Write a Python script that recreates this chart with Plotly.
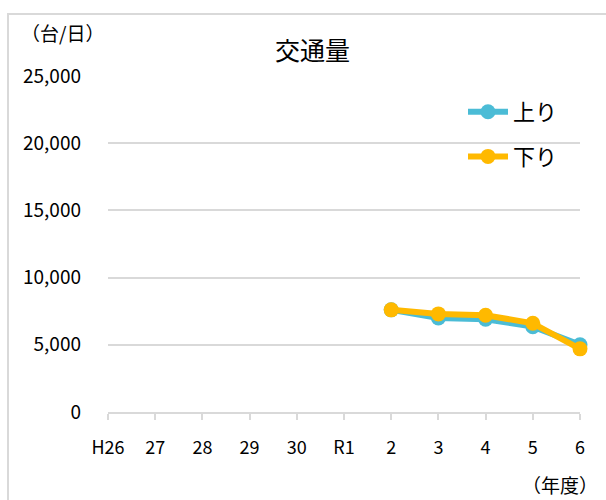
import plotly.graph_objects as go

categories = ["H26", "27", "28", "29", "30", "R1", "2", "3", "4", "5", "6"]
up_values = [None, None, None, None, None, None, 7600, 7000, 6900, 6350, 5000]
down_values = [None, None, None, None, None, None, 7600, 7300, 7200, 6600, 4700]
y_ticks = [0, 5000, 10000, 15000, 20000, 25000]
y_tick_labels = ["0", "5,000", "10,000", "15,000", "20,000", "25,000"]

FONT = "Noto Sans CJK JP, Noto Sans, sans-serif"
BLUE = "#4BBCD6"
YELLOW = "#FFB900"
GRID = "#D9D9D9"

W, H = 606, 500
L, R, T, B = 108, 26, 76, 88
pw, ph = W - L - R, H - T - B

def px_x(p):
    return (p - L) / pw

def px_y(p):
    return (H - B - p) / ph

fig = go.Figure()
fig.add_trace(go.Scatter(x=categories, y=up_values, name="上り", mode="lines+markers",
                         legendgroup="up",
                         line=dict(color=BLUE, width=6), marker=dict(size=15, color=BLUE),
                         cliponaxis=False))
fig.add_trace(go.Scatter(x=categories, y=down_values, name="下り", mode="lines+markers",
                         legendgroup="down",
                         line=dict(color=YELLOW, width=6), marker=dict(size=15, color=YELLOW),
                         cliponaxis=False))

fig.update_layout(
    width=W, height=H,
    margin=dict(l=L, r=R, t=T, b=B, pad=0),
    paper_bgcolor="white", plot_bgcolor="white",
    font=dict(family=FONT, color="#000000", size=17),
    showlegend=True,
    legend=dict(x=px_x(463), y=px_y(91), xanchor="left", yanchor="top",
                bgcolor="rgba(0,0,0,0)", font=dict(size=22, family=FONT),
                tracegroupgap=13, itemwidth=40),
    xaxis=dict(type="category", categoryarray=categories, range=[0, 10],
               showgrid=False, showline=True, linecolor=GRID, linewidth=2,
               ticks="outside", tickcolor=GRID, ticklen=6, tickwidth=1.5,
               ticklabelstandoff=12, tickfont=dict(size=18, family=FONT)),
    yaxis=dict(range=[0, 25000], tickvals=y_ticks, ticktext=y_tick_labels,
               showgrid=True, gridcolor=GRID, gridwidth=2, zeroline=False,
               showline=False, ticks="", ticklabelstandoff=26,
               tickfont=dict(size=19, family=FONT)),
)

fig.add_shape(type="rect", xref="paper", yref="paper",
              x0=px_x(8), x1=px_x(620), y0=px_y(515), y1=px_y(14),
              line=dict(color=GRID, width=2), fillcolor="rgba(0,0,0,0)", layer="below")

fig.add_annotation(xref="paper", yref="paper", x=px_x(312), y=px_y(49),
                   text="交通量", showarrow=False, font=dict(size=25, family=FONT),
                   xanchor="center", yanchor="middle")
fig.add_annotation(xref="paper", yref="paper", x=px_x(62), y=px_y(32),
                   text="（台/日）", showarrow=False, font=dict(size=19, family=FONT),
                   xanchor="center", yanchor="middle")
fig.add_annotation(xref="paper", yref="paper", x=px_x(560), y=px_y(485),
                   text="（年度）", showarrow=False, font=dict(size=19, family=FONT),
                   xanchor="center", yanchor="middle")

fig.write_html("out.html", config={"displayModeBar": False},
               post_script="document.body.style.margin='0';document.body.style.overflow='hidden';")
